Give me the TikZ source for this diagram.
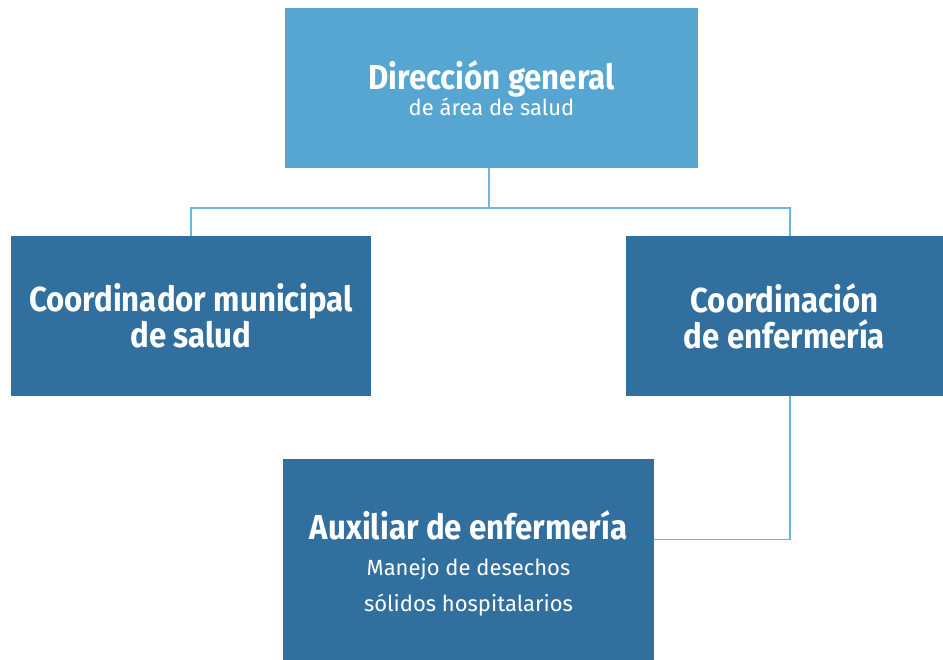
\documentclass[tikz,border=0pt]{standalone}
\usepackage{fontspec}
\setmainfont{Fira Sans}
\newfontfamily\headfont[FakeStretch=0.9]{Fira Sans}
\usetikzlibrary{positioning}

\definecolor{topblue}{HTML}{56A6D1}
\definecolor{darkblue}{HTML}{31709E}
\definecolor{linkblue}{HTML}{6BB7DE}

\newcommand{\headtxt}{\headfont\bfseries\fontsize{26}{27}\selectfont}
\newcommand{\subtxt}{\rmfamily\mdseries\fontsize{16.5}{26}\selectfont}

\tikzset{
  box/.style={inner sep=0pt, align=center, text=white, fill=darkblue,
    minimum height=120pt, font=\headtxt},
  link/.style={draw=linkblue, line width=1.1pt}
}

\begin{document}
\begin{tikzpicture}[x=0.75pt, y=-0.75pt]
\useasboundingbox (0,0) rectangle (943,660);
\node[box, fill=topblue, minimum width=309.75pt] (dir) at (491.5,88)
  {Dirección general\\[-7pt]\subtxt de área de salud};
\node[box, minimum width=270pt] (coord) at (191,316)
  {Coordinador municipal\\de salud};
\node[box, minimum width=237.75pt] (enf) at (784.5,316)
  {Coordinación\\de enfermería};
\node[box, minimum width=278.25pt, minimum height=156.75pt] (aux) at (468.5,563.5)
  {Auxiliar de enfermería\\[-0.5pt]\subtxt Manejo de desechos\\[0pt]\subtxt sólidos hospitalarios};

\coordinate (split) at (489,208);
\draw[link] (dir.south -| split) -- (split);
\draw[link] (coord.north) |- (split) -| ([xshift=4pt]enf.north);
\draw[link] ([xshift=4pt]enf.south) |- ([yshift=18pt]aux.east);
\end{tikzpicture}
\end{document}
